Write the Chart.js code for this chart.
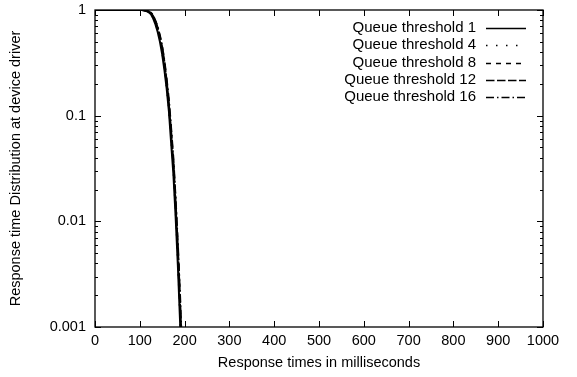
<!DOCTYPE html>
<html><head><meta charset="utf-8">
<script src="https://cdn.jsdelivr.net/npm/chart.js@4"></script>
<style>html,body{margin:0;padding:0;background:#fff}canvas{display:block}</style>
</head><body>
<canvas id="c" width="577" height="377"></canvas>
<script>
// ---- data ----
const times = [0, 50, 100, 105, 110, 115, 120, 125, 130, 135, 140, 145, 150, 155, 160, 165, 170, 175, 180, 185, 190, 195];
const seriesLabels = ['Queue threshold 1', 'Queue threshold 4', 'Queue threshold 8', 'Queue threshold 12', 'Queue threshold 16'];
const q1  = [1, 1, 1, 0.998, 0.99, 0.975, 0.95, 0.91, 0.83, 0.73, 0.62, 0.50, 0.38, 0.27, 0.18, 0.11, 0.055, 0.028, 0.011, 0.0038, 0.0011, 0.0003];
const q4  = [1, 1, 1, 0.998, 0.992, 0.98, 0.96, 0.92, 0.85, 0.75, 0.64, 0.52, 0.40, 0.29, 0.19, 0.12, 0.062, 0.032, 0.013, 0.0045, 0.0013, 0.00035];
const q8  = [1, 1, 1, 0.999, 0.993, 0.982, 0.965, 0.93, 0.86, 0.77, 0.66, 0.54, 0.42, 0.30, 0.20, 0.125, 0.066, 0.034, 0.014, 0.005, 0.0015, 0.0004];
const q12 = [1, 1, 1, 0.999, 0.994, 0.985, 0.97, 0.94, 0.87, 0.78, 0.68, 0.56, 0.44, 0.32, 0.21, 0.13, 0.07, 0.036, 0.015, 0.0055, 0.0017, 0.00045];
const q16 = [1, 1, 1, 0.999, 0.995, 0.987, 0.972, 0.945, 0.88, 0.79, 0.69, 0.57, 0.45, 0.33, 0.22, 0.14, 0.075, 0.039, 0.016, 0.006, 0.0019, 0.0005];
const xTicks = [0, 100, 200, 300, 400, 500, 600, 700, 800, 900, 1000];
const yTicks = [0.001, 0.01, 0.1, 1];
const xTitle = 'Response times in milliseconds';
const yTitle = 'Response time Distribution at device driver';

const seriesValues = [q1, q4, q8, q12, q16];
const dashes = [[], [1.5, 8.5], [5, 5], [8.5, 2.5], [8, 3, 1.5, 3]];
const FONT = 'Liberation Sans';

const datasets = seriesLabels.map((lab, i) => ({
  label: lab,
  data: times.map((t, j) => ({x: t, y: seriesValues[i][j]})),
  borderColor: '#000',
  borderWidth: 2,
  borderDash: dashes[i],
  pointRadius: 0,
  fill: false,
  tension: 0
}));

const frame = {
  id: 'frame',
  beforeDraw(chart) {
    const ctx = chart.ctx;
    ctx.save(); ctx.fillStyle = '#fff'; ctx.fillRect(0, 0, chart.width, chart.height); ctx.restore();
  },
  afterDatasetsDraw(chart) {
    const ctx = chart.ctx, a = chart.chartArea;
    const xs = chart.scales.x, ys = chart.scales.y;
    ctx.save();
    ctx.strokeStyle = '#000';
    ctx.lineWidth = 1.3;
    ctx.setLineDash([]);
    ctx.strokeRect(a.left, a.top, a.right - a.left, a.bottom - a.top);
    ctx.lineWidth = 1;
    ctx.beginPath();
    const MAJ = 6, MIN = 3;
    xTicks.forEach(v => {
      const px = Math.round(xs.getPixelForValue(v)) + 0.5;
      ctx.moveTo(px, a.bottom); ctx.lineTo(px, a.bottom - MAJ);
      ctx.moveTo(px, a.top); ctx.lineTo(px, a.top + MAJ);
    });
    for (let d = 0; d < yTicks.length; d++) {
      const base = yTicks[d];
      const py = Math.round(ys.getPixelForValue(base)) + 0.5;
      ctx.moveTo(a.left, py); ctx.lineTo(a.left + MAJ, py);
      ctx.moveTo(a.right, py); ctx.lineTo(a.right - MAJ, py);
      if (d < yTicks.length - 1) {
        for (let m = 2; m <= 9; m++) {
          const pm = Math.round(ys.getPixelForValue(base * m)) + 0.5;
          ctx.moveTo(a.left, pm); ctx.lineTo(a.left + MIN, pm);
          ctx.moveTo(a.right, pm); ctx.lineTo(a.right - MIN, pm);
        }
      }
    }
    ctx.stroke();

    // legend (gnuplot style: text right-aligned, sample on the right)
    ctx.font = '15px "' + FONT + '"';
    ctx.fillStyle = '#000';
    ctx.textAlign = 'right';
    ctx.textBaseline = 'middle';
    chart.data.datasets.forEach((ds, i) => {
      const y = 28 + i * 17.3;
      ctx.fillText(ds.label, 476, y);
      ctx.save();
      ctx.lineWidth = 1.6;
      ctx.setLineDash(ds.borderDash || []);
      ctx.beginPath();
      ctx.moveTo(486, Math.round(y) + 0.5); ctx.lineTo(526, Math.round(y) + 0.5);
      ctx.stroke();
      ctx.restore();
    });
    ctx.restore();
  }
};

new Chart(document.getElementById('c'), {
  type: 'line',
  data: { datasets },
  options: {
    responsive: false,
    animation: false,
    devicePixelRatio: 1,
    layout: { padding: { top: 10, right: 34, bottom: 0, left: 0 } },
    plugins: { legend: { display: false }, tooltip: { enabled: false } },
    scales: {
      x: {
        type: 'linear', min: 0, max: 1000,
        afterBuildTicks: s => { s.ticks = xTicks.map(v => ({value: v})); },
        afterFit: s => { s.height = 50; s.paddingLeft = 0; s.paddingRight = 0; },
        grid: { display: false, drawTicks: false },
        border: { display: false },
        ticks: { color: '#000', padding: 5, maxRotation: 0, callback: v => String(v), font: { family: FONT, size: 14.5 } },
        title: { display: true, text: xTitle, color: '#000', padding: { top: 2, bottom: 5 }, font: { family: FONT, size: 14.5 } }
      },
      y: {
        type: 'logarithmic', min: 0.001, max: 1,
        afterBuildTicks: s => { s.ticks = yTicks.map(v => ({value: v})); },
        afterFit: s => { s.width = 95; s.paddingTop = 0; s.paddingBottom = 0; },
        grid: { display: false, drawTicks: false },
        border: { display: false },
        ticks: { color: '#000', padding: 9, callback: v => String(v), font: { family: FONT, size: 14.5 } },
        title: { display: true, text: yTitle, color: '#000', padding: { top: 7, bottom: 0 }, font: { family: FONT, size: 14.5 } }
      }
    }
  },
  plugins: [frame]
});
</script>
</body></html>
